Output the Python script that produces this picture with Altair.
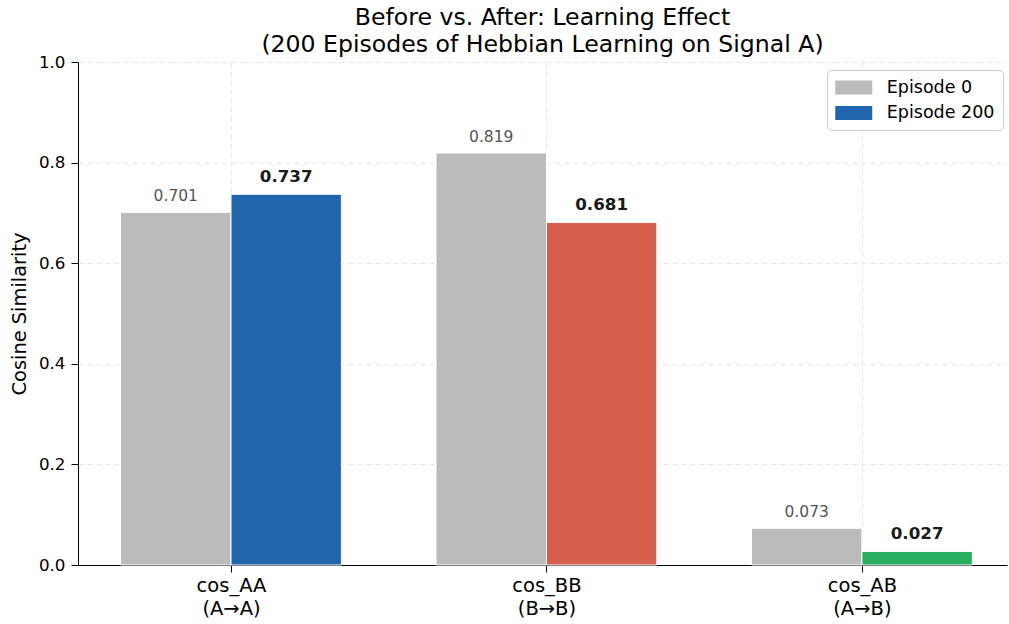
import altair as alt
import pandas as pd

categories = ["cos_AA", "cos_BB", "cos_AB"]
subtitles = ["(A→A)", "(B→B)", "(A→B)"]
episode0 = [0.701, 0.819, 0.073]
episode200 = [0.737, 0.681, 0.027]
grey = "#bbbbbb"
colors200 = ["#2166ac", "#d6604d", "#27ae60"]
series_names = ["Episode 0", "Episode 200"]
bar_width = 0.35

rows = []
for i, cat in enumerate(categories):
    rows.append(dict(cat=cat, series=series_names[0], key=series_names[0],
                     value=episode0[i], x0=i - bar_width, x1=i, xc=i - bar_width / 2,
                     label=f"{episode0[i]:.3f}"))
    key200 = series_names[1] if i == 0 else f"{series_names[1]} {cat}"
    rows.append(dict(cat=cat, series=series_names[1], key=key200,
                     value=episode200[i], x0=i, x1=i + bar_width, xc=i + bar_width / 2,
                     label=f"{episode200[i]:.3f}"))
df = pd.DataFrame(rows)

color_domain = [series_names[0], series_names[1]] + [f"{series_names[1]} {c}" for c in categories[1:]]
color_range = [grey] + colors200

label_expr = " : ".join(
    [f"datum.value == {i} ? ['{c}', '{s}']" for i, (c, s) in enumerate(zip(categories, subtitles))]
) + " : ''"

xscale = alt.Scale(domain=[-0.485, 2.46], nice=False, zero=False)
yscale = alt.Scale(domain=[0, 1], nice=False)

legend_shape = "M-2,-0.76H2V0.76H-2Z"

bars = alt.Chart(df).mark_bar(stroke="white", strokeWidth=1).encode(
    x=alt.X("x0:Q", scale=xscale,
            axis=alt.Axis(values=[0, 1, 2], labelExpr=label_expr, title=None, grid=True,
                          labelFontSize=19.5, labelLineHeight=23, labelPadding=4,
                          labelFlush=False)),
    x2="x1:Q",
    y=alt.Y("value:Q", scale=yscale,
            axis=alt.Axis(values=[0, 0.2, 0.4, 0.6, 0.8, 1.0], format=".1f",
                          title="Cosine Similarity", titleFontSize=19.4,
                          titlePadding=9, labelFontSize=16.7, labelPadding=6,
                          grid=True, labelFlush=False)),
    y2=alt.datum(0),
    color=alt.Color("key:N",
                    scale=alt.Scale(domain=color_domain, range=color_range),
                    legend=alt.Legend(values=series_names, title=None, orient="none",
                                      legendX=749, legendY=8,
                                      symbolType=legend_shape, symbolSize=342,
                                      symbolOffset=9.25,
                                      symbolStrokeWidth=0, symbolOpacity=1,
                                      labelFontSize=17.5, labelOffset=23.5,
                                      rowPadding=7.5, padding=8,
                                      fillColor="white", strokeColor="#cccccc",
                                      cornerRadius=4)),
)

text0 = alt.Chart(df).transform_filter(
    alt.datum.series == series_names[0]
).mark_text(baseline="bottom", dy=-8.5, fontSize=15.5, color="#555555").encode(
    x=alt.X("xc:Q", scale=xscale),
    y=alt.Y("value:Q", scale=yscale),
    text="label:N",
)

text200 = alt.Chart(df).transform_filter(
    alt.datum.series == series_names[1]
).mark_text(baseline="bottom", dy=-8.5, fontSize=16.7, fontWeight="bold", color="#1a1a1a").encode(
    x=alt.X("xc:Q", scale=xscale),
    y=alt.Y("value:Q", scale=yscale),
    text="label:N",
)

chart = alt.layer(bars, text0, text200).properties(
    width=929,
    height=503,
    autosize=alt.AutoSizeParams(type="none"),
    padding={"left": 78, "top": 62, "right": 2, "bottom": 59},
    title=alt.TitleParams(
        ["Before vs. After: Learning Effect", "(200 Episodes of Hebbian Learning on Signal A)"],
        fontSize=23.6, fontWeight="normal", lineHeight=27, offset=-3,
        anchor="middle", color="black"),
).configure(
    font="DejaVu Sans",
).configure_view(
    stroke=None,
).configure_axis(
    domainColor="black", domainWidth=1, tickColor="black", tickSize=7, tickWidth=1,
    labelColor="black", titleColor="black", titleFontWeight="normal",
    gridColor="#e3e3e3", gridDash=[5, 4], gridWidth=0.9,
)

chart.save("out.html", embed_options={"renderer": "svg", "actions": False})
